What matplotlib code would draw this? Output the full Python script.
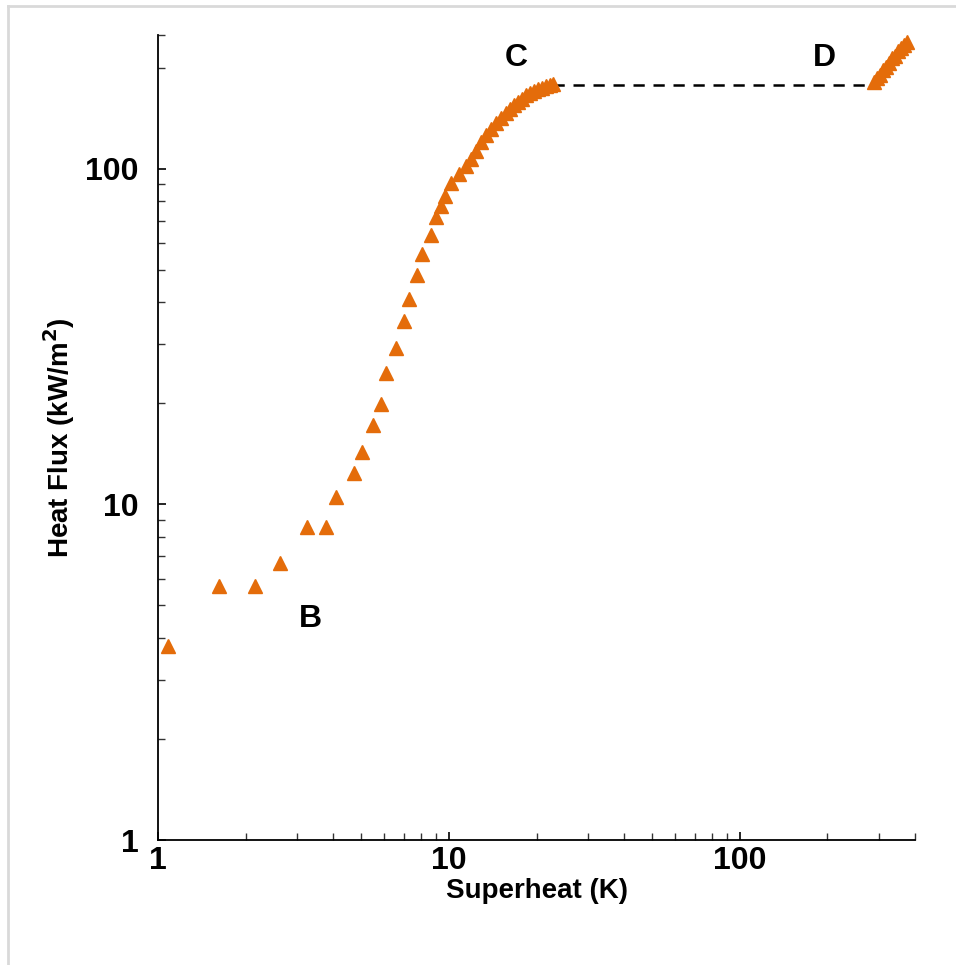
import matplotlib
matplotlib.use("Agg")
import matplotlib.pyplot as plt
from matplotlib.lines import Line2D
from matplotlib.ticker import FixedLocator, NullFormatter

plt.rcParams['font.family'] = ['Liberation Sans', 'DejaVu Sans']

# Data (superheat K, heat flux kW/m2)
superheat = [1.08, 1.62, 2.15, 2.63, 3.25, 3.78, 4.09, 4.72, 5.01, 5.50, 5.83,
             6.07, 6.58, 7.00, 7.30, 7.74, 8.08, 8.65, 9.02, 9.39, 9.69, 10.2,
             10.85, 11.44, 11.90, 12.38, 12.88, 13.40, 13.94, 14.50, 15.09,
             15.70, 16.20, 16.73, 17.26, 17.82, 18.39, 18.98, 19.60, 20.22,
             20.87, 21.54, 22.24, 22.78]
heat_flux = [3.79, 5.71, 5.71, 6.69, 8.57, 8.57, 10.5, 12.4, 14.3, 17.2, 19.9,
             24.6, 29.3, 35.2, 40.9, 48.3, 55.7, 63.6, 71.8, 77.6, 83.1, 90.7,
             96.4, 102.1, 107.1, 113.2, 119.6, 126.3, 131.6, 137.1, 141.9,
             146.9, 151.0, 155.1, 158.4, 161.7, 165.1, 168.5, 170.8, 173.2,
             174.4, 176.8, 178.0, 179.2]

film_superheat = [288.8, 295.7, 302.8, 310.0, 317.4, 325.1, 332.9, 341.0,
                  349.1, 357.5, 366.0, 374.9]
film_flux = [181.7, 186.1, 190.6, 196.0, 201.4, 207.0, 212.8, 217.2, 223.3,
             227.9, 234.2, 239.0]

transition_x = [22.78, 289.0]
transition_y = [178.0, 178.0]

labels = ["B", "C", "D"]
label_x = [3.33, 17.1, 196.0]
label_y = [4.55, 213.0, 213.0]

x_ticks = [1, 10, 100]
x_ticklabels = ["1", "10", "100"]
y_ticks = [1, 10, 100]
y_ticklabels = ["1", "10", "100"]

W, H = 956, 965
fig = plt.figure(figsize=(W / 100, H / 100), dpi=100)
ax = fig.add_axes([158 / W, 1 - 840 / H, (915 - 158) / W, (840 - 35) / H])

orange = "#E46C0A"
ax.plot(transition_x, transition_y, color="black", lw=1.8, ls=(0, (4.5, 3.5)), zorder=2)
ax.plot(superheat, heat_flux, ls="none", marker="^", ms=10, color=orange,
        mec=orange, zorder=3)
ax.plot(film_superheat, film_flux, ls="none", marker="^", ms=10, color=orange,
        mec=orange, zorder=3)

ax.set_xscale("log")
ax.set_yscale("log")
ax.set_xlim(1, 400)
ax.set_ylim(1, 250)

ax.set_xticks(x_ticks)
ax.set_xticklabels(x_ticklabels)
ax.set_yticks(y_ticks)
ax.set_yticklabels(y_ticklabels)

xminor = [m * d for d in (1, 10, 100) for m in range(2, 10) if m * d <= 400]
yminor = [m * d for d in (1, 10, 100) for m in range(2, 10) if m * d <= 250] + [250]
ax.xaxis.set_minor_locator(FixedLocator(xminor))
ax.yaxis.set_minor_locator(FixedLocator(yminor))
ax.xaxis.set_minor_formatter(NullFormatter())
ax.yaxis.set_minor_formatter(NullFormatter())

ax.tick_params(axis="both", which="major", direction="in", length=6, width=1.2,
               labelsize=23, color="black")
ax.tick_params(axis="both", which="minor", direction="in", length=5, width=1.0,
               color="#333333")
ax.tick_params(axis="y", which="major", pad=14)
ax.tick_params(axis="x", which="major", pad=4)
for lab in ax.get_xticklabels() + ax.get_yticklabels():
    lab.set_fontweight("bold")

for s in ("top", "right"):
    ax.spines[s].set_visible(False)
for s in ("left", "bottom"):
    ax.spines[s].set_linewidth(1.3)

ax.set_xlabel("Superheat (K)", fontsize=20, fontweight="bold", labelpad=2)
ax.set_ylabel("Heat Flux (kW/m$^\\mathbf{2}$)", fontsize=20, fontweight="bold", labelpad=6)

for t, x, y in zip(labels, label_x, label_y):
    ax.text(x, y, t, fontsize=23, fontweight="bold", ha="center", va="center")

# light gray frame (top and left)
fig.add_artist(Line2D([8 / W, 8 / W], [0, 1 - 6 / H], transform=fig.transFigure,
                      color="#d9d9d9", lw=2))
fig.add_artist(Line2D([8 / W, 1], [1 - 6 / H, 1 - 6 / H], transform=fig.transFigure,
                      color="#d9d9d9", lw=2))

fig.savefig("out.png", dpi=100, facecolor="white")
